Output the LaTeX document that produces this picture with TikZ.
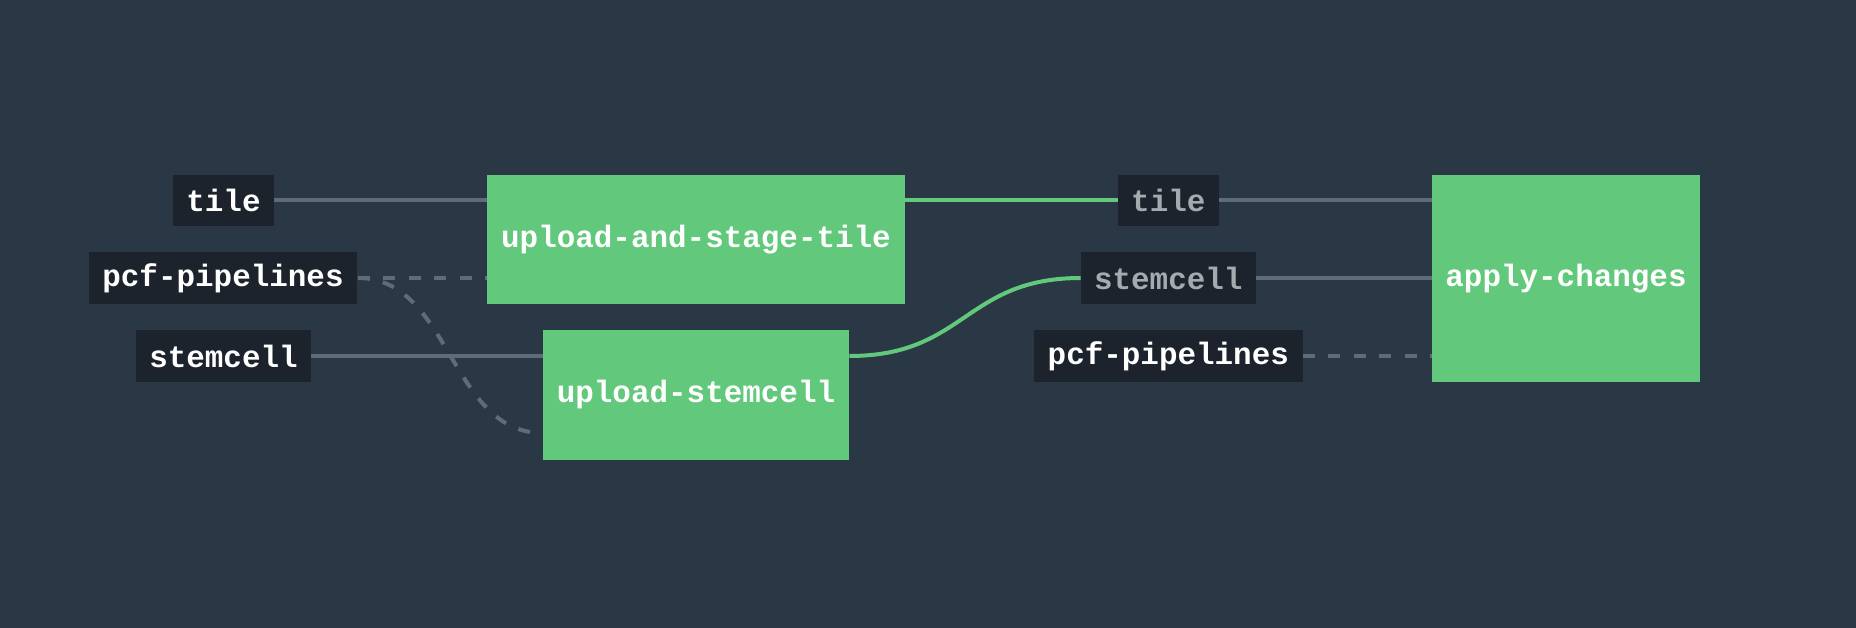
\documentclass[tikz,border=0pt]{standalone}
\usepackage{fontspec}
\setmonofont{Liberation Mono}
\definecolor{bg}{HTML}{2A3745}
\definecolor{jobgreen}{HTML}{62C87B}
\definecolor{resfill}{HTML}{1D232C}
\definecolor{wiregray}{HTML}{5F6B78}
\definecolor{dimtext}{HTML}{A5AAB0}
\tikzset{
  lbl/.style={font=\ttfamily\bfseries\fontsize{17.6}{20}\selectfont},
  res/.style={lbl, fill=resfill, text=white, inner sep=0pt, minimum height=1.03cm},
  job/.style={lbl, fill=jobgreen, text=white, inner sep=0pt},
  wire/.style={draw=wiregray, line width=0.08cm},
  dashwire/.style={wire, dash pattern=on 0.24cm off 0.27cm},
  okwire/.style={draw=jobgreen, line width=0.08cm},
}
\begin{document}
\begin{tikzpicture}[x=0.02cm,y=-0.02cm]
\fill[bg] (0,0) rectangle (1856,628);
\useasboundingbox (0,0) rectangle (1856,628);

\node[res, minimum width=2.02cm] (tileA) at (223.5,200.5) {tile};
\node[res, minimum width=5.38cm] (pcfA) at (223,278) {pcf-pipelines};
\node[res, minimum width=3.5cm] (stemA) at (223.5,356) {stemcell};

\node[job, minimum width=8.36cm, minimum height=2.58cm] (uast) at (696,239.5) {upload-and-stage-tile};
\node[job, minimum width=6.12cm, minimum height=2.6cm] (ust) at (696,395) {upload-stemcell};

\node[res, text=dimtext, minimum width=2.01cm] (tileB) at (1168.3,200.5) {tile};
\node[res, text=dimtext, minimum width=3.49cm] (stemB) at (1168.3,278) {stemcell};
\node[res, minimum width=5.37cm] (pcfB) at (1168.3,356) {pcf-pipelines};

\node[job, minimum width=5.36cm, minimum height=4.14cm] (apply) at (1566,278.3) {apply-changes};

\coordinate (ustpcf) at (ust.west |- 0,433);

\draw[wire] (tileA.east) -- (tileA.east -| uast.west);
\draw[dashwire] (pcfA.east) -- (pcfA.east -| uast.west);
\draw[dashwire] (pcfA.east) .. controls +(93,0) and +(-93,0) .. (ustpcf);
\draw[wire] (stemA.east) -- (stemA.east -| ust.west);

\draw[okwire] (uast.east |- tileB) -- (tileB.west);
\draw[okwire] (ust.east |- stemA) .. controls +(116,0) and +(-116,0) .. (stemB.west);

\draw[wire] (tileB.east) -- (tileB.east -| apply.west);
\draw[wire] (stemB.east) -- (stemB.east -| apply.west);
\draw[dashwire] (pcfB.east) -- (pcfB.east -| apply.west);
\end{tikzpicture}
\end{document}
